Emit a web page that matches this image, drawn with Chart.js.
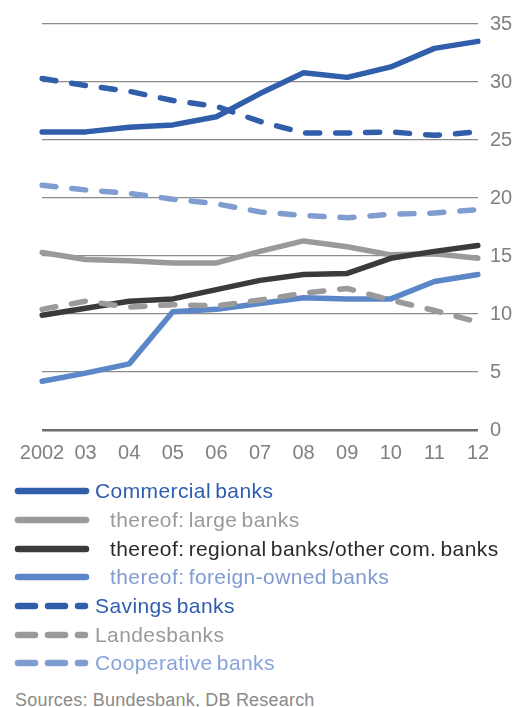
<!DOCTYPE html>
<html>
<head>
<meta charset="utf-8">
<script src="https://cdn.jsdelivr.net/npm/chart.js@4/dist/chart.umd.min.js"></script>
<style>
    html, body { margin: 0; padding: 0; background: #fff; }
    body { width: 522px; height: 707px; position: relative; overflow: hidden; font-family: "Liberation Sans", Arial, sans-serif; }
    #chartBox { position: absolute; left: 0; top: 0; width: 522px; height: 480px; }
    #legend { position: absolute; left: 0; top: 477px; width: 522px; }
    .legend-row { height: 28.7px; display: flex; align-items: center; font-size: 21px; white-space: nowrap; }
    .legend-row svg { flex: none; }
    .legend-row span { margin-left: 3px; letter-spacing: 0.4px; word-spacing: -2px; }
    .legend-row.sub span { margin-left: 18px; }
    #source { position: absolute; left: 15px; top: 690px; font-size: 18px; letter-spacing: 0.2px; color: #8a8a8a; }
</style>
</head>
<body>
<div id="chartBox"><canvas id="bankChart"></canvas></div>
<div id="legend"></div>
<div id="source">Sources: Bundesbank, DB Research</div>

<script>
// Market shares, %
const years = ['2002', '03', '04', '05', '06', '07', '08', '09', '10', '11', '12'];
const yTicks = [0, 5, 10, 15, 20, 25, 30, 35];

const commercialBanks = [25.7, 25.7, 26.1, 26.3, 27.0, 29.0, 30.8, 30.4, 31.3, 32.9, 33.5];
const largeBanks      = [15.3, 14.7, 14.6, 14.4, 14.4, 15.4, 16.3, 15.8, 15.1, 15.2, 14.8];
const regionalBanks   = [9.9, 10.5, 11.1, 11.3, 12.1, 12.9, 13.4, 13.5, 14.8, 15.4, 15.9];
const foreignBanks    = [4.2, 4.9, 5.7, 10.2, 10.4, 10.9, 11.4, 11.3, 11.3, 12.8, 13.4];
const savingsBanks    = [30.3, 29.7, 29.2, 28.4, 27.9, 26.6, 25.6, 25.6, 25.7, 25.4, 25.7];
const landesbanks     = [10.4, 11.1, 10.6, 10.8, 10.7, 11.2, 11.8, 12.2, 11.2, 10.3, 9.3];
const cooperativeBanks = [21.1, 20.7, 20.4, 19.9, 19.5, 18.8, 18.5, 18.3, 18.6, 18.7, 19.0];

const seriesNames = [
    'Commercial banks',
    'thereof: large banks',
    'thereof: regional banks/other com. banks',
    'thereof: foreign-owned banks',
    'Savings banks',
    'Landesbanks',
    'Cooperative banks',
];

const BLUE = '#305eab';
const GREY = '#9a9a9a';
const DARK = '#3d3a3a';
const MID_BLUE = '#5b86c7';
const LIGHT_BLUE = '#7f9dd0';
const DASH = [14, 16];

/**
 * Build one dataset
 */
function makeSeries(index, data, color, dashed, textColor, sub) {
    return {
        label: seriesNames[index],
        data: data,
        borderColor: color,
        backgroundColor: color,
        borderWidth: 5.5,
        borderDash: dashed ? DASH : [],
        borderCapStyle: 'round',
        borderJoinStyle: 'round',
        pointRadius: 0,
        tension: 0,
        textColor: textColor,
        sub: sub,
    };
}

const datasets = [
    makeSeries(0, commercialBanks, BLUE, false, '#2f5dae', false),
    makeSeries(1, largeBanks, GREY, false, '#9a9a9a', true),
    makeSeries(2, regionalBanks, DARK, false, '#2b2b2b', true),
    makeSeries(3, foreignBanks, MID_BLUE, false, '#7f9bd2', true),
    makeSeries(4, savingsBanks, BLUE, true, '#2f5dae', false),
    makeSeries(5, landesbanks, GREY, true, '#9a9a9a', false),
    makeSeries(6, cooperativeBanks, LIGHT_BLUE, true, '#86a3da', false),
];

// later series (the dashed ones) are drawn on top
datasets.forEach((ds, i) => { ds.order = datasets.length - i; });

const chart = new Chart(document.getElementById('bankChart'), {
    type: 'line',
    data: {
        labels: years,
        datasets: datasets,
    },
    options: {
        responsive: true,
        maintainAspectRatio: false,
        animation: false,
        layout: {
            padding: { left: 42, top: 24, right: 0, bottom: 4 },
        },
        plugins: {
            legend: { display: false },
            tooltip: { enabled: false },
        },
        scales: {
            x: {
                offset: false,
                grid: { display: false, drawTicks: false },
                border: { display: false },
                ticks: {
                    color: '#7f7f7f',
                    font: { family: '"Liberation Sans", Arial, sans-serif', size: 20 },
                    padding: 11,
                    maxRotation: 0,
                    autoSkip: false,
                },
            },
            y: {
                position: 'right',
                min: 0,
                max: 35,
                afterBuildTicks: (axis) => {
                    axis.ticks = yTicks.map(v => ({ value: v }));
                },
                afterFit: (axis) => {
                    axis.width = 44;
                },
                grid: {
                    drawTicks: false,
                    color: (ctx) => ctx.tick && ctx.tick.value === 0 ? '#6e6e6e' : '#8c8c8c',
                    lineWidth: (ctx) => ctx.tick && ctx.tick.value === 0 ? 2.5 : 1.2,
                },
                border: { display: false },
                ticks: {
                    color: '#808080',
                    font: { family: '"Liberation Sans", Arial, sans-serif', size: 20 },
                    padding: 12,
                },
            },
        },
    },
});

/**
 * Build the legend below the chart
 */
function buildLegend() {
    const legend = document.getElementById('legend');
    datasets.forEach(ds => {
        const row = document.createElement('div');
        row.className = 'legend-row' + (ds.sub ? ' sub' : '');
        const dashed = ds.borderDash.length > 0;
        const dash = dashed ? 'stroke-dasharray="17 13"' : '';
        row.innerHTML = `
            <svg width="92" height="12">
                <line x1="18" y1="6" x2="${dashed ? 85 : 86}" y2="6" stroke="${ds.borderColor}"
                      stroke-width="6.5" stroke-linecap="round" ${dash}></line>
            </svg>
            <span style="color:${ds.textColor}">${ds.label}</span>
        `;
        legend.appendChild(row);
    });
}

buildLegend();
</script>
</body>
</html>
